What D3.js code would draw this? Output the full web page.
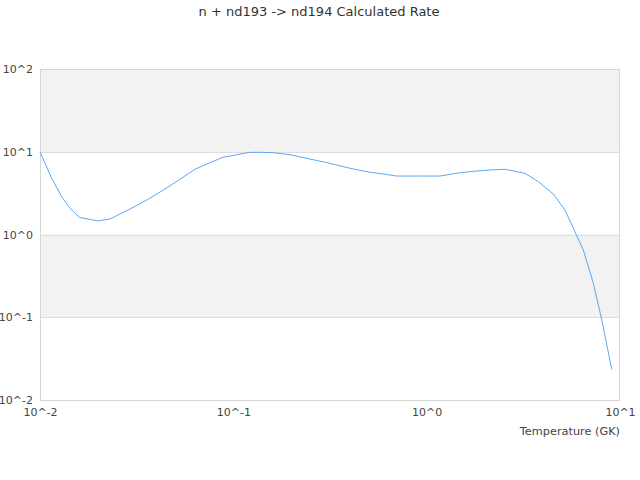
<!DOCTYPE html>
<html>
<head>
<meta charset="utf-8">
<script src="https://cdn.jsdelivr.net/npm/d3@7"></script>
<style>
html,body{margin:0;padding:0;background:#fff;}
svg{display:block;font-family:"DejaVu Sans",sans-serif;}
</style>
</head>
<body>
<svg id="chart" width="640" height="480"></svg>
<script>
const chartTitle = "n + nd193 -> nd194 Calculated Rate";
const xAxisLabel = "Temperature (GK)";
const temperatures = [0.01,0.0115,0.01295,0.0143,0.016,0.02,0.023,0.0286,0.0357,0.0435,0.053,0.0633,0.0757,0.0887,0.104,0.122,0.1374,0.161,0.2,0.249,0.316,0.401,0.509,0.597,0.7,0.888,1.172,1.32,1.402,1.743,2.126,2.542,3.226,3.78,4.52,5.19,5.85,6.46,7.28,8.05,9.06];
const rates = [9.93,4.78,2.86,2.07,1.61,1.46,1.54,1.98,2.61,3.45,4.65,6.14,7.38,8.58,9.21,9.85,9.85,9.75,9.14,8.16,7.24,6.31,5.65,5.38,5.09,5.09,5.09,5.33,5.49,5.80,6.02,6.14,5.49,4.35,3.08,1.98,1.08,0.65,0.257,0.0927,0.0235];
const xTicks = [0.01,0.1,1,10];
const xTickLabels = ["10^-2","10^-1","10^0","10^1"];
const yTicks = [0.01,0.1,1,10,100];
const yTickLabels = ["10^-2","10^-1","10^0","10^1","10^2"];

const svg = d3.select("#chart");
const m = {left:40, right:620, top:69, bottom:400};
const x = d3.scaleLog().domain([0.01,10]).range([m.left,m.right]);
const y = d3.scaleLog().domain([0.01,100]).range([m.bottom,m.top]);

// alternating bands
const bands = [[10,100],[0.1,1]];
svg.selectAll("rect.band").data(bands).enter().append("rect")
  .attr("x",m.left).attr("width",m.right-m.left)
  .attr("y",d=>y(d[1])).attr("height",d=>y(d[0])-y(d[1]))
  .attr("fill","#f2f2f2");

// grid lines
svg.selectAll("line.grid").data(yTicks.slice(1,-1)).enter().append("line")
  .attr("x1",m.left).attr("x2",m.right)
  .attr("y1",d=>Math.round(y(d))+0.5).attr("y2",d=>Math.round(y(d))+0.5)
  .attr("stroke","#dddddd").attr("stroke-width",1);

// frame
svg.append("rect").attr("x",m.left+0.5).attr("y",m.top+0.5)
  .attr("width",m.right-m.left-1).attr("height",m.bottom-m.top)
  .attr("fill","none").attr("stroke","#d6d6d6").attr("stroke-width",1);

// line
const line = d3.line().x((d,i)=>x(temperatures[i])).y(d=>y(d));
svg.append("path").datum(rates).attr("d",line)
  .attr("fill","none").attr("stroke","#5ca8f5").attr("stroke-width",1);

// axes
const xAxis = d3.axisBottom(x).tickValues(xTicks).tickFormat((d,i)=>xTickLabels[i]).tickSize(0).tickPadding(8);
const gx = svg.append("g").attr("transform",`translate(0,${m.bottom})`).call(xAxis);
gx.select(".domain").remove();
gx.selectAll("text").attr("fill","#444").style("font-size","11px").style("font-family","DejaVu Sans");

const yAxis = d3.axisLeft(y).tickValues(yTicks).tickFormat((d,i)=>yTickLabels[i]).tickSize(0).tickPadding(7);
const gy = svg.append("g").attr("transform",`translate(${m.left},0)`).call(yAxis);
gy.select(".domain").remove();
gy.selectAll("text").attr("fill","#444").style("font-size","11px").style("font-family","DejaVu Sans");

svg.append("text").attr("x",m.right).attr("y",434.5).attr("text-anchor","end")
  .attr("fill","#444").style("font-size","11.3px").text(xAxisLabel);

svg.append("text").attr("x",319).attr("y",16).attr("text-anchor","middle")
  .attr("fill","#333").style("font-size","13px").text(chartTitle);
</script>
</body>
</html>
